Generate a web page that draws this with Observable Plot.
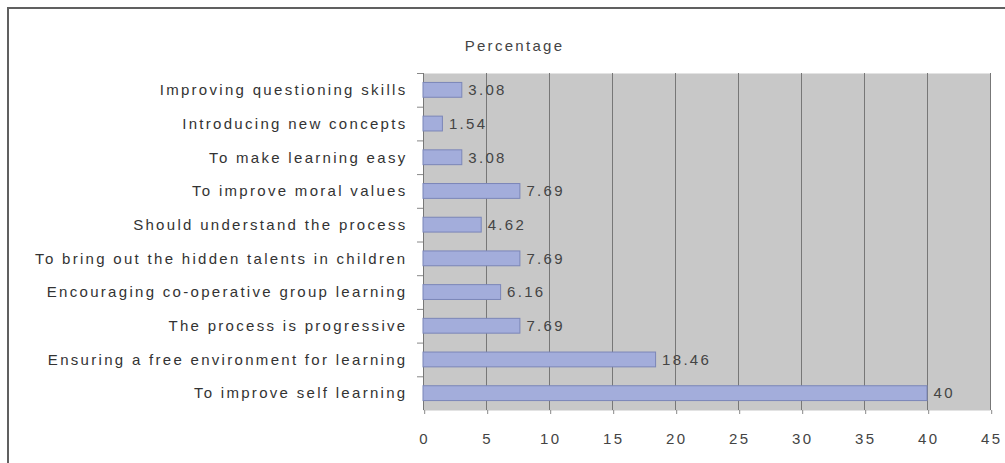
<!DOCTYPE html>
<html>
<head>
<meta charset="utf-8">
<script src="https://cdn.jsdelivr.net/npm/d3@7"></script>
<script src="https://cdn.jsdelivr.net/npm/@observablehq/plot@0.6"></script>
<style>
  html, body { margin: 0; padding: 0; background: #fff; }
  #wrap { position: relative; width: 1005px; height: 463px; overflow: hidden; }
  #frame { position: absolute; left: 7px; top: 7px; width: 1010px; height: 470px; border: 2px solid #606060; box-sizing: border-box; pointer-events: none; }
  #chart svg { font-family: "Liberation Sans", Arial, sans-serif; letter-spacing: 2.3px; }
</style>
</head>
<body>
<div id="wrap"><div id="chart"></div><div id="frame"></div></div>
<script>
const categories = [
  "Improving questioning skills",
  "Introducing new concepts",
  "To make learning easy",
  "To improve moral values",
  "Should understand the process",
  "To bring out the hidden talents in children",
  "Encouraging co-operative group learning",
  "The process is progressive",
  "Ensuring a free environment for learning",
  "To improve self learning"
];
const values = [3.08, 1.54, 3.08, 7.69, 4.62, 7.69, 6.16, 7.69, 18.46, 40];
const valueLabels = ["3.08", "1.54", "3.08", "7.69", "4.62", "7.69", "6.16", "7.69", "18.46", "40"];
const xTicks = [0, 5, 10, 15, 20, 25, 30, 35, 40, 45];
const title = "Percentage";

const data = categories.map((c, i) => ({category: c, value: values[i], label: valueLabels[i]}));

const W = 1005, H = 463, mL = 423, mR = 15, mT = 73, mB = 53;
const step = (H - mT - mB) / categories.length;

const chart = Plot.plot({
  width: W,
  height: H,
  marginLeft: mL,
  marginRight: mR,
  marginTop: mT,
  marginBottom: mB,
  style: {fontFamily: "'Liberation Sans', Arial, sans-serif", fontSize: "15px", color: "#333", background: "transparent"},
  x: {domain: [0, 45], ticks: xTicks, label: null},
  y: {domain: categories, label: null, padding: 0.56, paddingOuter: 0.28, align: 0.5, round: false},
  marks: [
    Plot.frame({fill: "#c8c8c8", stroke: "none"}),
    Plot.gridX(xTicks.slice(1), {stroke: "#777", strokeOpacity: 1, strokeWidth: 1}),
    Plot.axisX({ticks: xTicks, tickSize: 4, tickPadding: 19, stroke: "#888", fill: "#444", fontSize: 15, dx: 1.2}),
    Plot.axisY({tickSize: 0, tickPadding: 16, fill: "#333", fontSize: 15}),
    Plot.axisY({tickSize: 6, text: null, stroke: "#888", dy: -step / 2}),
    Plot.ruleX([0], {stroke: "#777"}),
    Plot.barX(data, {y: "category", x: "value", fill: "#a3addb", stroke: "#7b86b8", strokeWidth: 1}),
    Plot.text(data, {y: "category", x: "value", text: "label", textAnchor: "start", dx: 6, fill: "#444", fontSize: 15}),
    Plot.text([title], {frameAnchor: "top-left", dx: 91, dy: -33, textAnchor: "middle", fill: "#444", fontSize: 15})
  ]
});
document.getElementById("chart").appendChild(chart);
</script>
</body>
</html>
